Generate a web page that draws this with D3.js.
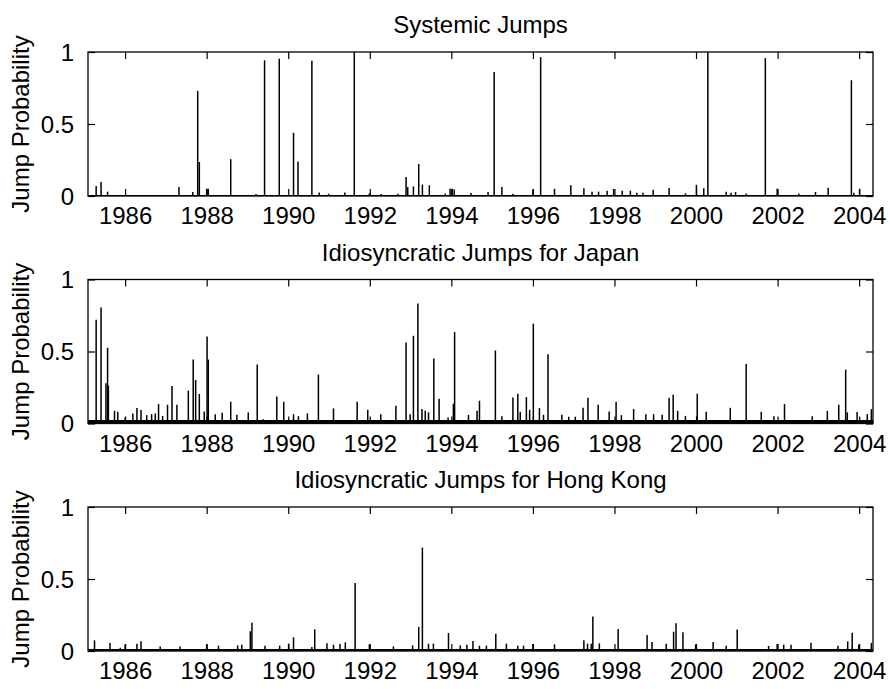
<!DOCTYPE html>
<html>
<head>
<meta charset="utf-8">
<script src="https://cdn.jsdelivr.net/npm/d3@7"></script>
<style>
  body { margin: 0; background: #fff; }
  text { font-family: "Liberation Sans", Arial, sans-serif; fill: #000; }
</style>
</head>
<body>
<svg width="890" height="689"></svg>
<script>
// decimal year, jump probability
var systemicJumps = [
  [1985.29, .069], [1985.41, .097], [1985.57, .03], [1987.32, .062], [1987.66, .028],
  [1987.78, .73], [1987.82, .236], [1988.00, .05], [1988.04, .05], [1988.59, .256],
  [1989.21, .014], [1989.42, .942], [1989.78, .954], [1990.13, .439], [1990.24, .24],
  [1990.58, .94], [1990.76, .025], [1990.99, .016], [1991.39, .025], [1991.62, 1.0],
  [1991.99, .018], [1992.28, .014], [1992.69, .016], [1992.89, .132], [1992.93, .062],
  [1993.07, .067], [1993.20, .222], [1993.29, .079], [1993.46, .074], [1993.85, .018],
  [1993.97, .05], [1994.02, .05], [1994.07, .045], [1994.48, .021], [1994.90, .028],
  [1995.05, .861], [1995.24, .062], [1995.51, .016], [1996.00, .046], [1996.19, .965],
  [1996.53, .05], [1996.93, .074], [1997.25, .053], [1997.45, .03], [1997.61, .03],
  [1997.82, .037], [1997.98, .048], [1998.19, .037], [1998.39, .037], [1998.55, .023],
  [1998.70, .023], [1998.95, .044], [1999.34, .055], [1999.74, .018], [2000.01, .078],
  [2000.19, .053], [2000.29, 1.0], [2000.74, .03], [2000.86, .023], [2000.97, .028],
  [2001.23, .018], [2001.70, .958], [2001.99, .05], [2002.52, .018], [2002.93, .028],
  [2003.24, .058], [2003.81, .804], [2003.87, .023], [2004.01, .05]
];

var japanJumps = [
  [1985.29, .721], [1985.41, .805], [1985.53, .279], [1985.57, .526], [1985.59, .263],
  [1985.74, .088], [1985.82, .081], [1986.00, .042], [1986.19, .07], [1986.29, .107],
  [1986.39, .093], [1986.53, .058], [1986.65, .065], [1986.74, .07], [1986.82, .135],
  [1986.92, .053], [1987.04, .13], [1987.15, .26], [1987.27, .13], [1987.55, .228],
  [1987.67, .444], [1987.73, .302], [1987.82, .205], [1987.94, .084], [1988.01, .605],
  [1988.04, .444], [1988.21, .065], [1988.38, .074], [1988.59, .151], [1988.74, .06],
  [1989.02, .077], [1989.24, .409], [1989.39, .03], [1989.72, .188], [1989.89, .151],
  [1990.13, .065], [1990.25, .051], [1990.47, .07], [1990.74, .34], [1991.11, .105],
  [1991.69, .151], [1991.95, .095], [1992.27, .065], [1992.64, .123], [1992.89, .563],
  [1992.99, .065], [1993.07, .609], [1993.18, .833], [1993.28, .1], [1993.36, .088],
  [1993.44, .077], [1993.57, .451], [1993.70, .172], [1993.92, .042], [1994.05, .137],
  [1994.08, .635], [1994.42, .06], [1994.63, .088], [1994.69, .158], [1995.08, .507],
  [1995.24, .051], [1995.51, .181], [1995.63, .207], [1995.69, .081], [1995.84, .184],
  [1995.92, .095], [1996.01, .693], [1996.16, .107], [1996.26, .06], [1996.37, .481],
  [1996.71, .06], [1996.88, .047], [1997.04, .047], [1997.23, .109], [1997.35, .179],
  [1997.60, .13], [1997.87, .084], [1998.04, .151], [1998.17, .058], [1998.47, .1],
  [1998.77, .065], [1998.96, .065], [1999.17, .06], [1999.34, .179], [1999.44, .2],
  [1999.55, .088], [1999.74, .053], [2000.03, .207], [2000.25, .081], [2000.84, .109],
  [2001.23, .414], [2001.60, .081], [2001.91, .051], [2002.17, .135], [2002.85, .051],
  [2003.22, .088], [2003.50, .13], [2003.67, .374], [2003.71, .077], [2003.95, .079],
  [2004.20, .065], [2004.30, .1]
];

var hongKongJumps = [
  [1985.25, .074], [1985.63, .056], [1985.88, .023], [1986.00, .046], [1986.29, .051],
  [1986.39, .067], [1986.86, .032], [1987.35, .032], [1988.00, .046], [1988.29, .037],
  [1988.76, .039], [1988.86, .044], [1989.07, .137], [1989.11, .197], [1989.43, .037],
  [1989.79, .037], [1990.01, .051], [1990.13, .095], [1990.58, .028], [1990.65, .15],
  [1990.95, .053], [1991.11, .044], [1991.27, .049], [1991.40, .06], [1991.64, .472],
  [1991.99, .046], [1992.58, .032], [1993.05, .039], [1993.20, .167], [1993.29, .718],
  [1993.44, .051], [1993.56, .051], [1993.93, .125], [1994.22, .039], [1994.38, .044],
  [1994.53, .07], [1994.69, .037], [1994.86, .037], [1995.09, .12], [1995.35, .051],
  [1995.63, .037], [1995.77, .037], [1996.00, .049], [1996.53, .046], [1997.25, .074],
  [1997.34, .051], [1997.43, .051], [1997.47, .24], [1997.63, .053], [1998.09, .153],
  [1998.80, .111], [1998.92, .063], [1999.27, .051], [1999.45, .134], [1999.51, .192],
  [1999.68, .13], [1999.99, .046], [2000.42, .063], [2000.74, .037], [2001.01, .15],
  [2001.78, .035], [2001.99, .049], [2002.15, .044], [2002.33, .044], [2002.82, .058],
  [2003.48, .037], [2003.72, .067], [2003.83, .127], [2003.99, .044], [2004.30, .056]
];

// level of the everyday noise along the bottom of each panel
var noiseFloor = [0.007, 0.025, 0.014];
var panelTitles = ["Systemic Jumps", "Idiosyncratic Jumps for Japan", "Idiosyncratic Jumps for Hong Kong"];
var panelData = [systemicJumps, japanJumps, hongKongJumps];
var xDomain = [1985.09, 2004.34];
var xTickYears = [1986, 1988, 1990, 1992, 1994, 1996, 1998, 2000, 2002, 2004];
var yTickValues = [0, 0.5, 1];
var yLabel = "Jump Probability";

var svg = d3.select("svg");
var left = 88, right = 873, panelTop = 52, panelH = 144, panelStep = 227.5;
var tickLen = 7;

var x = d3.scaleLinear().domain(xDomain).range([left, right]);

panelData.forEach(function(data, i) {
    var top = panelTop + i * panelStep,
        bottom = top + panelH;
    var y = d3.scaleLinear().domain([0, 1]).range([bottom, top]);
    var g = svg.append("g");

    // noise band along zero
    var area = d3.area()
        .x(function(d) { return x(d); })
        .y0(y(0))
        .y1(y(noiseFloor[i]));
    g.append("path")
        .datum(xDomain)
        .attr("d", area)
        .attr("fill", "#000");

    g.selectAll("line.spike")
        .data(data)
        .enter().append("line")
        .attr("class", "spike")
        .attr("x1", function(d) { return x(d[0]); })
        .attr("x2", function(d) { return x(d[0]); })
        .attr("y1", y(0))
        .attr("y2", function(d) { return y(d[1]); })
        .attr("stroke", "#000")
        .attr("stroke-width", 1.5);

    // axes: inward ticks on all four sides, like a boxed matlab axes
    var xBottom = d3.axisBottom(x).tickValues(xTickYears).tickFormat(d3.format("d"))
        .tickSizeInner(-tickLen).tickSizeOuter(0).tickPadding(tickLen + 6);
    var xTop = d3.axisTop(x).tickValues(xTickYears).tickFormat("")
        .tickSizeInner(-tickLen).tickSizeOuter(0);
    var yLeft = d3.axisLeft(y).tickValues(yTickValues).tickFormat(d3.format("~g"))
        .tickSizeInner(-tickLen).tickSizeOuter(0).tickPadding(tickLen + 7);
    var yRight = d3.axisRight(y).tickValues(yTickValues).tickFormat("")
        .tickSizeInner(-tickLen).tickSizeOuter(0);

    var gxb = g.append("g").attr("transform", "translate(0," + bottom + ")").call(xBottom);
    g.append("g").attr("transform", "translate(0," + top + ")").call(xTop);
    var gyl = g.append("g").attr("transform", "translate(" + left + ",0)").call(yLeft);
    g.append("g").attr("transform", "translate(" + right + ",0)").call(yRight);

    g.selectAll(".domain").remove();
    g.selectAll(".tick line").attr("stroke", "#000").attr("stroke-width", 1.2);
    g.selectAll(".tick text")
        .style("font-family", "'Liberation Sans', Arial, sans-serif")
        .style("font-size", "24px")
        .attr("fill", "#000");
    gxb.selectAll(".tick text").attr("dy", "0.71em").attr("y", 11);
    gyl.selectAll(".tick text").attr("dy", "0.35em");

    g.append("rect")
        .attr("x", left).attr("y", top)
        .attr("width", right - left).attr("height", panelH)
        .attr("fill", "none")
        .attr("stroke", "#000")
        .attr("stroke-width", 1.3);

    g.append("text")
        .attr("x", (left + right) / 2)
        .attr("y", top - 19)
        .attr("text-anchor", "middle")
        .style("font-size", "24px")
        .text(panelTitles[i]);

    g.append("text")
        .attr("transform", "translate(29," + (top + panelH / 2) + ") rotate(-90)")
        .attr("text-anchor", "middle")
        .style("font-size", "24px")
        .text(yLabel);
});
</script>
</body>
</html>
